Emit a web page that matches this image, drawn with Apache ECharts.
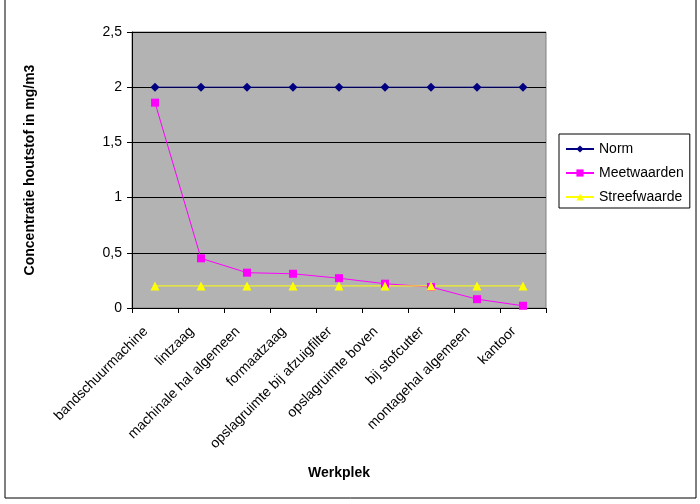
<!DOCTYPE html>
<html>
<head>
<meta charset="utf-8">
<script src="https://cdn.jsdelivr.net/npm/echarts@6/dist/echarts.min.js"></script>
<style>
  html, body { margin: 0; padding: 0; background: #fff; }
  #main { width: 700px; height: 504px; }
</style>
</head>
<body>
<div id="main"></div>
<script>
  // data
  var werkplekken = ['bandschuurmachine', 'lintzaag', 'machinale hal algemeen', 'formaatzaag',
    'opslagruimte bij afzuigfilter', 'opslagruimte boven', 'bij stofcutter', 'montagehal algemeen', 'kantoor'];
  var norm = [2, 2, 2, 2, 2, 2, 2, 2, 2];
  var meetwaarden = [1.86, 0.45, 0.32, 0.31, 0.27, 0.22, 0.19, 0.08, 0.02];
  var streefwaarde = [0.2, 0.2, 0.2, 0.2, 0.2, 0.2, 0.2, 0.2, 0.2];

  var myChart = echarts.init(document.getElementById('main'));
  var font = 'Liberation Sans, Arial, sans-serif';

  var option = {
    backgroundColor: '#fff',
    animation: false,
    textStyle: { fontFamily: font },
    graphic: [{
      type: 'rect',
      shape: { x: 5, y: -2, width: 691, height: 500 },
      style: { fill: 'none', stroke: '#000', lineWidth: 1 },
      silent: true
    }],
    grid: {
      left: 132, top: 32, width: 414, height: 276,
      show: true, backgroundColor: '#b3b3b3', borderColor: '#808080', borderWidth: 1
    },
    legend: {
      orient: 'vertical',
      left: 559, top: 134,
      padding: [8, 6, 4, 6],
      itemGap: 10,
      itemWidth: 28, itemHeight: 9,
      borderColor: '#000', borderWidth: 1, backgroundColor: '#fff',
      textStyle: { fontSize: 14, color: '#000', fontFamily: font },
      data: ['Norm', 'Meetwaarden', 'Streefwaarde']
    },
    xAxis: {
      type: 'category',
      data: werkplekken,
      boundaryGap: true,
      name: 'Werkplek',
      nameLocation: 'middle',
      nameGap: 158,
      nameTextStyle: { fontWeight: 'bold', fontSize: 14, color: '#000' },
      axisLine: { lineStyle: { color: '#000', width: 1 } },
      axisTick: { show: true, alignWithLabel: false, length: 5, lineStyle: { color: '#000' } },
      axisLabel: { rotate: 45, fontSize: 14, color: '#000', margin: 12, interval: 0, padding: [0, 13, 0, 0] },
      splitLine: { show: false }
    },
    yAxis: {
      type: 'value',
      min: 0, max: 2.5, interval: 0.5,
      name: 'Concentratie houtstof in mg/m3',
      nameLocation: 'middle',
      nameGap: 95,
      nameTextStyle: { fontWeight: 'bold', fontSize: 14, color: '#000' },
      axisLine: { show: true, lineStyle: { color: '#000' } },
      axisTick: { show: true, length: 5, lineStyle: { color: '#000' } },
      axisLabel: {
        fontSize: 14, color: '#000', margin: 10,
        formatter: function (v) { return String(v).replace('.', ','); }
      },
      splitLine: { show: true, lineStyle: { color: '#000', width: 1 } }
    },
    series: [{
      name: 'Norm',
      type: 'line',
      data: norm,
      symbol: 'diamond',
      symbolSize: 9,
      itemStyle: { color: '#000080' },
      lineStyle: { color: '#000080', width: 1 }
    }, {
      name: 'Meetwaarden',
      type: 'line',
      data: meetwaarden,
      symbol: 'rect',
      symbolSize: 8,
      itemStyle: { color: '#ff00ff' },
      lineStyle: { color: '#ff00ff', width: 1 }
    }, {
      name: 'Streefwaarde',
      type: 'line',
      data: streefwaarde,
      symbol: 'triangle',
      symbolSize: 9,
      itemStyle: { color: '#ffff00' },
      lineStyle: { color: '#ffff00', width: 1 }
    }]
  };

  myChart.setOption(option);
</script>
</body>
</html>
